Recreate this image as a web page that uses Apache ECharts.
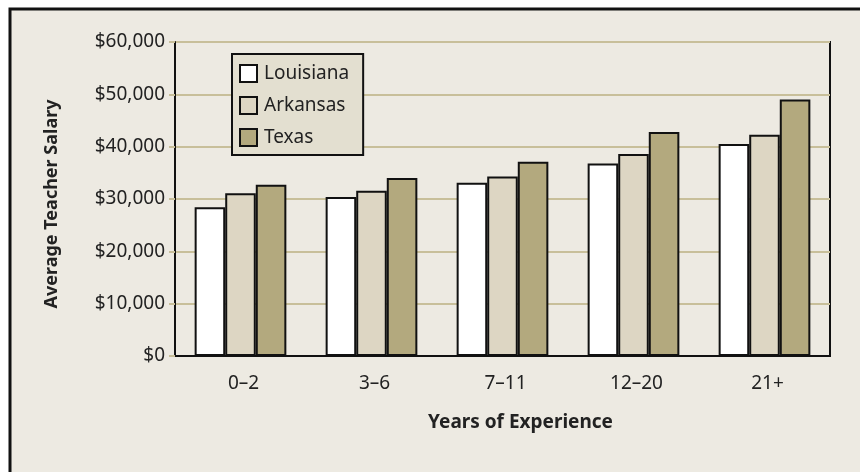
<!DOCTYPE html>
<html><head><meta charset="utf-8">
<script src="https://cdn.jsdelivr.net/npm/echarts@6/dist/echarts.min.js"></script>
<style>html,body{margin:0;padding:0;background:#fff}#c{width:860px;height:472px}</style>
</head><body><div id="c"></div>
<script>
const categories = ['0–2', '3–6', '7–11', '12–20', '21+'];
const louisiana = [28400, 30400, 33100, 36800, 40500];
const arkansas = [31100, 31600, 34300, 38600, 42300];
const texas = [32700, 34000, 37100, 42800, 49000];
const yTicks = [0, 10000, 20000, 30000, 40000, 50000, 60000];

const FONT = 'Noto Sans';
const chart = echarts.init(document.getElementById('c'), null, {renderer: 'canvas'});
function bar(name, data, color) {
  return {
    name, type: 'bar', data, barGap: '0%', barCategoryGap: '30%',
    itemStyle: {color, borderColor: '#111', borderWidth: 2},
    z: 3
  };
}
chart.setOption({
  backgroundColor: 'transparent',
  animation: false,
  textStyle: {fontFamily: FONT},
  graphic: [{
    type: 'rect', z: -10, silent: true,
    shape: {x: 10, y: 9, width: 900, height: 500},
    style: {fill: '#edeae2', stroke: '#111', lineWidth: 3}
  }],
  grid: {left: 175, top: 42, right: 30, bottom: 116, show: true, borderColor: '#111', borderWidth: 2, backgroundColor: 'transparent'},
  legend: {
    orient: 'vertical', left: 232, top: 54,
    backgroundColor: '#e3dfd0', borderColor: '#111', borderWidth: 2,
    padding: [10, 14, 8, 7], itemWidth: 17, itemHeight: 17, itemGap: 13,
    icon: 'rect',
    textStyle: {fontFamily: FONT, fontSize: 19, lineHeight: 17, color: '#222', padding: [0, 0, 0, 2]},
    data: ['Louisiana', 'Arkansas', 'Texas']
  },
  xAxis: {
    type: 'category', data: categories,
    name: 'Years of Experience', nameLocation: 'middle', nameGap: 57,
    nameTextStyle: {fontFamily: FONT, fontSize: 19, fontWeight: 'bold', color: '#222', padding: [0, 0, 0, 36]},
    axisLine: {show: true, lineStyle: {color: '#111', width: 2}},
    axisTick: {show: false},
    axisLabel: {fontFamily: FONT, fontSize: 19, color: '#222', margin: 18, padding: [0, 0, 0, 6]}
  },
  yAxis: {
    type: 'value', min: yTicks[0], max: yTicks[yTicks.length - 1], interval: 10000,
    name: 'Average Teacher Salary', nameLocation: 'middle', nameGap: 114,
    nameTextStyle: {fontFamily: FONT, fontSize: 18, fontWeight: 'bold', color: '#222', padding: [0, 10, 0, 0]},
    axisLine: {show: true, lineStyle: {color: '#111', width: 2}},
    axisTick: {show: true, length: 6, lineStyle: {color: '#c8bf9a', width: 2}},
    axisLabel: {fontFamily: FONT, fontSize: 19, color: '#222', margin: 10,
      formatter: v => '$' + v.toLocaleString('en-US')},
    splitLine: {show: true, lineStyle: {color: '#c8bf9a', width: 2}}
  },
  series: [
    bar('Louisiana', louisiana, '#ffffff'),
    bar('Arkansas', arkansas, '#ddd6c3'),
    bar('Texas', texas, '#b3a97e')
  ]
});
</script></body></html>
